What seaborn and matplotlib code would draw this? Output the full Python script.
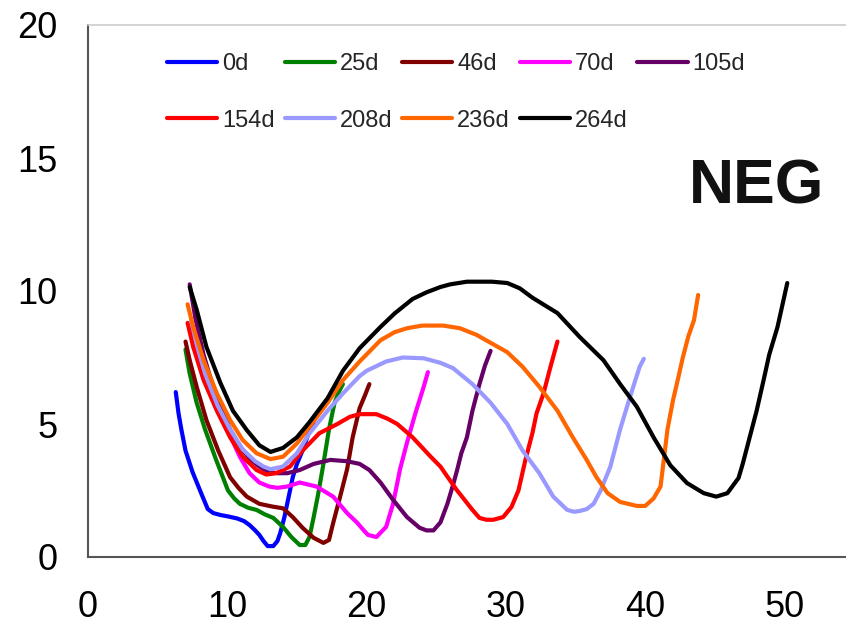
import numpy as np
import pandas as pd
import matplotlib
matplotlib.use("Agg")
import matplotlib.pyplot as plt
import seaborn as sns

# ---- data ----
series_names = ["0d", "25d", "46d", "70d", "105d", "154d", "208d", "236d", "264d"]
series_colors = ["#0000FF", "#008000", "#800000", "#FF00FF", "#660066",
                 "#FF0000", "#9999FF", "#FF6600", "#000000"]

x_0d = [6.3, 6.5, 6.7, 7.0, 7.5, 8.2, 8.6, 9.0, 9.5, 10.1, 10.7, 11.2, 11.6, 12.0, 12.3, 12.6, 12.9, 13.3,
        13.6, 13.8, 14.1, 14.3, 14.7, 15.0, 15.4, 15.8, 16.2]
y_0d = [6.2, 5.4, 4.8, 4.0, 3.2, 2.3, 1.8, 1.65, 1.58, 1.52, 1.45, 1.35, 1.2, 1.0, 0.83, 0.6, 0.41, 0.41,
        0.6, 0.9, 1.5, 2.0, 3.0, 3.5, 4.0, 4.6, 5.1]

x_25d = [7.0, 7.3, 7.8, 8.4, 9.2, 10.05, 10.5, 10.9, 11.5, 12.1, 12.7, 13.3, 14.0, 14.6, 15.2, 15.6, 15.9,
         16.2, 16.5, 16.9, 17.3, 17.7, 18.0, 18.3]
y_25d = [7.8, 6.9, 5.8, 4.8, 3.65, 2.5, 2.2, 2.0, 1.85, 1.77, 1.6, 1.47, 1.13, 0.75, 0.45, 0.45, 0.75,
         1.5, 2.3, 3.5, 4.8, 5.8, 6.2, 6.5]

x_46d = [7.0, 7.3, 7.8, 8.5, 9.35, 10.2, 10.8, 11.4, 12.3, 13.2, 14.0, 14.7, 15.4, 16.2, 16.9, 17.3, 17.6,
         18.1, 18.6, 19.0, 19.5, 19.9, 20.2]
y_46d = [8.1, 7.4, 6.4, 5.15, 4.0, 3.0, 2.6, 2.27, 2.0, 1.9, 1.83, 1.5, 1.1, 0.72, 0.53, 0.64, 1.28,
         2.27, 3.3, 4.5, 5.6, 6.1, 6.5]

x_70d = [7.3, 7.7, 8.3, 9.2, 9.95, 10.9, 11.6, 12.3, 13.0, 13.6, 14.3, 15.2, 16.4, 17.6, 18.6, 19.3, 19.8,
         20.1, 20.7, 21.4, 21.9, 22.4, 22.9, 23.5, 24.1, 24.4]
y_70d = [8.6, 7.8, 6.7, 5.6, 4.85, 3.77, 3.15, 2.8, 2.65, 2.6, 2.65, 2.8, 2.65, 2.27, 1.65, 1.3, 1.0,
         0.83, 0.75, 1.13, 2.0, 3.3, 4.3, 5.4, 6.4, 6.95]

x_105d = [7.3, 7.7, 8.3, 9.2, 10.2, 10.9, 11.6, 12.3, 13.0, 13.6, 14.3, 15.2, 16.2, 17.4, 18.6, 19.5, 20.2,
          21.0, 21.9, 22.9, 23.8, 24.3, 24.8, 25.3, 25.8, 26.2, 26.5, 26.8, 27.2, 27.6, 28.1, 28.5, 28.9]
y_105d = [10.25, 9.0, 7.6, 6.0, 4.8, 4.15, 3.7, 3.4, 3.2, 3.15, 3.15, 3.27, 3.5, 3.65, 3.6, 3.5, 3.27,
          2.8, 2.15, 1.5, 1.1, 1.0, 1.0, 1.3, 2.0, 2.7, 3.27, 3.9, 4.5, 5.5, 6.5, 7.2, 7.75]

x_154d = [7.15, 7.55, 8.3, 9.25, 10.2, 11.1, 12.1, 12.8, 13.5, 14.5, 15.4, 16.6, 17.9, 18.8, 19.5, 20.7,
          21.5, 22.2, 23.3, 24.6, 25.3, 25.8, 26.5, 27.6, 28.1, 28.6, 29.1, 29.8, 30.4, 30.9, 31.4, 31.9,
          32.2, 32.7, 33.2, 33.7]
y_154d = [8.8, 7.9, 6.65, 5.5, 4.5, 3.77, 3.27, 3.1, 3.15, 3.4, 4.0, 4.65, 5.0, 5.27, 5.37, 5.37,
          5.2, 5.0, 4.5, 3.77, 3.4, 3.02, 2.5, 1.77, 1.47, 1.4, 1.4, 1.5, 1.88, 2.5, 3.65, 4.65,
          5.4, 6.15, 7.15, 8.1]

x_208d = [7.4, 7.8, 8.4, 9.3, 10.2, 11.1, 12.0, 12.6, 13.1, 14.0, 15.0, 15.9, 17.2, 18.3, 19.5, 20.0, 21.4,
          22.6, 24.1, 25.3, 26.2, 27.6, 28.9, 30.1, 31.2, 32.4, 33.4, 34.4, 34.9, 35.3, 35.8, 36.3, 36.8,
          37.5, 38.2, 38.9, 39.6, 39.9]
y_208d = [8.9, 8.0, 6.9, 5.7, 4.8, 4.05, 3.6, 3.4, 3.3, 3.4, 3.9, 4.65, 5.5, 6.15, 6.8, 7.0, 7.35,
          7.5, 7.47, 7.3, 7.1, 6.5, 5.8, 5.0, 4.0, 3.15, 2.27, 1.77, 1.7, 1.73, 1.8, 2.0, 2.5,
          3.4, 4.8, 6.0, 7.15, 7.45]

x_236d = [7.15, 7.55, 8.3, 9.25, 10.2, 11.1, 12.1, 13.1, 14.0, 15.0, 15.9, 17.2, 18.3, 19.5, 21.0, 22.0,
          22.9, 24.0, 25.5, 26.7, 27.9, 28.4, 30.1, 31.2, 32.4, 33.7, 34.8, 35.8, 36.5, 37.3, 38.2, 39.4,
          40.0, 40.6, 41.1, 41.3, 41.6, 42.0, 42.4, 42.7, 43.1, 43.5, 43.8]
y_236d = [9.5, 8.65, 7.4, 6.15, 5.15, 4.4, 3.9, 3.68, 3.77, 4.27, 4.9, 5.8, 6.65, 7.35, 8.15, 8.45,
          8.6, 8.7, 8.7, 8.6, 8.35, 8.2, 7.7, 7.15, 6.4, 5.5, 4.5, 3.65, 3.0, 2.4, 2.07, 1.92,
          1.92, 2.2, 2.65, 3.5, 4.8, 5.9, 6.8, 7.5, 8.3, 8.9, 9.85]

x_264d = [7.3, 7.8, 8.5, 9.5, 10.4, 11.4, 12.3, 13.1, 14.0, 15.0, 15.9, 17.2, 18.3, 19.5, 21.0, 22.0, 23.3,
          24.3, 25.3, 26.0, 27.2, 28.1, 29.0, 30.1, 31.0, 31.9, 33.7, 35.3, 37.0, 38.2, 39.4, 40.6, 41.8,
          43.0, 44.2, 45.1, 45.9, 46.7, 47.0, 47.5, 48.0, 48.5, 48.9, 49.5, 50.2]
y_264d = [10.15, 9.3, 7.9, 6.55, 5.5, 4.77, 4.2, 3.95, 4.1, 4.5, 5.07, 5.97, 7.0, 7.85, 8.65, 9.15, 9.7,
          9.95, 10.15, 10.25, 10.35, 10.35, 10.35, 10.3, 10.1, 9.75, 9.17, 8.27, 7.4, 6.5, 5.65, 4.5, 3.45,
          2.78, 2.4, 2.27, 2.4, 2.97, 3.5, 4.5, 5.5, 6.65, 7.6, 8.65, 10.3]

x_ticks = [0, 5, 10, 15, 20, 25, 30, 35, 40, 45, 50]
x_tick_labels = ["0", "", "10", "", "20", "", "30", "", "40", "", "50"]
y_ticks = [0, 5, 10, 15, 20]
panel_label = "NEG"

# ---- long-form table ----
xs = [x_0d, x_25d, x_46d, x_70d, x_105d, x_154d, x_208d, x_236d, x_264d]
ys = [y_0d, y_25d, y_46d, y_70d, y_105d, y_154d, y_208d, y_236d, y_264d]
frames = []
for name, xv, yv in zip(series_names, xs, ys):
    frames.append(pd.DataFrame({"x": xv, "y": yv, "series": name}))
df = pd.concat(frames, ignore_index=True)

# ---- plot ----
sns.set_theme(style="white")
plt.rcParams["font.family"] = ["Liberation Sans", "DejaVu Sans"]

W, H = 846, 630
fig = plt.figure(figsize=(W / 100, H / 100), dpi=100)
ax_left, ax_bottom, ax_top = 88, 557, 25
ax_w = 55 * 13.93
ax = fig.add_axes([ax_left / W, 1 - ax_bottom / H, ax_w / W, (ax_bottom - ax_top) / H])

sns.lineplot(data=df, x="x", y="y", hue="series", hue_order=series_names,
             palette=series_colors, sort=False, estimator=None, units="series",
             linewidth=3.0, ax=ax, legend=True)

ax.set_xlim(0, 55)
ax.set_ylim(0, 20)
ax.set_xticks(x_ticks)
ax.set_xticklabels(x_tick_labels)
ax.set_yticks(y_ticks)
ax.set_xlabel("")
ax.set_ylabel("")
ax.tick_params(axis="both", which="major", direction="out", length=8, width=1.2,
               color="#555555", labelsize=26, labelcolor="black")
ax.tick_params(axis="y", pad=14)
ax.tick_params(axis="x", pad=16)

for s in ["left", "bottom"]:
    ax.spines[s].set_color("#555555")
    ax.spines[s].set_linewidth(1.5)
ax.spines["top"].set_color("#cccccc")
ax.spines["top"].set_linewidth(1.2)
ax.spines["right"].set_visible(False)

ax.text(48.0, 13.9, panel_label, fontsize=45, fontweight="bold", ha="center", va="center",
        color="#111111")

# legend: 5 columns, filled row by row
handles, labels = ax.get_legend_handles_labels()
hmap = dict(zip(labels, handles))
row1 = series_names[:5]
row2 = series_names[5:]
order = []
for i in range(5):
    order.append(row1[i])
    if i < len(row2):
        order.append(row2[i])
leg = ax.legend([hmap[l] for l in order], order, ncol=5, frameon=False,
                loc="upper left", bbox_to_anchor=(167 / W, 1 - 53.5 / H),
                bbox_transform=fig.transFigure, borderpad=0, borderaxespad=0,
                fontsize=17, handlelength=2.12, handletextpad=0.21,
                columnspacing=0.42, labelspacing=1.45)
for lh in leg.get_lines():
    lh.set_linewidth(3.0)

fig.savefig("out.png", dpi=100)
